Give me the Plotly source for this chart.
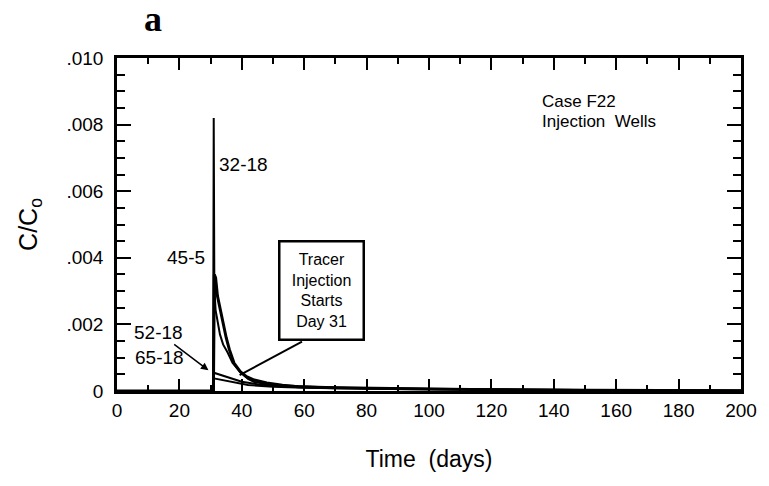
import plotly.graph_objects as go

# ---- data ----
days_32_18 = [0, 30.8, 31.0, 31.2, 31.6, 32.2, 33, 34, 35.5, 37, 39.5, 42, 44, 50, 60, 70, 80, 100, 120, 150, 200]
c_32_18 = [0, 0, 0.0082, 0.0031, 0.00243, 0.0021, 0.0017, 0.0014, 0.00115, 0.00085, 0.00057, 0.00036,
           0.00027, 0.00018, 0.00013, 0.0001, 0.00008, 0.00006, 0.00004, 0.00003, 0.00001]

days_45_5 = [0, 30.9, 31.2, 31.6, 32.2, 33, 34, 35, 36, 37.5, 39.5, 41.5, 44, 48, 53, 58, 70, 80, 100, 120, 150, 200]
c_45_5 = [0, 0, 0.0035, 0.0034, 0.00285, 0.0025, 0.002, 0.0016, 0.00125, 0.00084, 0.00058, 0.00043,
          0.00033, 0.00024, 0.00017, 0.00013, 0.0001, 0.00008, 0.00006, 0.00004, 0.00002, 0.00001]

days_52_18 = [0, 30.9, 31, 35, 40, 45, 50, 58, 70, 80, 100, 130, 160, 200]
c_52_18 = [0, 0, 0.00055, 0.00042, 0.00028, 0.0002, 0.00016, 0.00012, 0.0001, 0.00008, 0.00006, 0.00004, 0.00002, 0.00001]

days_65_18 = [0, 30.9, 31, 35, 42, 50, 60, 80, 100, 130, 160, 200]
c_65_18 = [0, 0, 0.00038, 0.0003, 0.00018, 0.00013, 0.0001, 0.00007, 0.00005, 0.00003, 0.00002, 0.00001]

y_tick_vals = [0, 0.002, 0.004, 0.006, 0.008, 0.010]
y_tick_text = ["0", ".002", ".004", ".006", ".008", ".010"]
x_tick_vals = [0, 20, 40, 60, 80, 100, 120, 140, 160, 180, 200]

FONT = "Liberation Sans, Arial, sans-serif"

fig = go.Figure()
for xs, ys, w in [(days_32_18, c_32_18, 2), (days_45_5, c_45_5, 3),
                  (days_52_18, c_52_18, 2), (days_65_18, c_65_18, 2)]:
    fig.add_trace(go.Scatter(x=xs, y=ys, mode="lines",
                             line=dict(color="black", width=w),
                             showlegend=False, hoverinfo="skip"))

axis_common = dict(showgrid=False, zeroline=False, showline=True, linecolor="black", linewidth=2.5,
                   mirror="ticks", ticks="inside", tickcolor="black", tickwidth=2,
                   tickfont=dict(family=FONT, size=19, color="black"))

fig.update_xaxes(range=[0, 200], tickvals=x_tick_vals, ticklen=12,
                 minor=dict(dtick=10, ticks="inside", ticklen=6, tickcolor="black", tickwidth=1.5),
                 title=dict(text="Time  (days)", font=dict(family=FONT, size=23, color="black"), standoff=32),
                 **axis_common)
fig.update_yaxes(range=[0, 0.010], tickvals=y_tick_vals, ticktext=y_tick_text, ticklen=14,
                 ticklabelstandoff=7,
                 minor=dict(dtick=0.0005, ticks="inside", ticklen=8, tickcolor="black", tickwidth=1.5),
                 title=dict(text="C/C<sub>o</sub>", font=dict(family=FONT, size=25, color="black"), standoff=22),
                 **axis_common)

ann_font = dict(family=FONT, size=19, color="black")
fig.add_annotation(x=40.7, y=0.0068, text="32-18", showarrow=False, font=ann_font)
fig.add_annotation(x=28.8, y=0.0040, text="45-5", showarrow=False, font=ann_font, xanchor="right")
fig.add_annotation(x=29.3, y=0.00062, text="52-18", font=ann_font, showarrow=True,
                   arrowhead=2, arrowsize=1, arrowwidth=1.5, arrowcolor="black", ax=-50, ay=-38)
fig.add_annotation(x=13.6, y=0.00102, text="65-18", showarrow=False, font=ann_font)
fig.add_annotation(x=135.5, y=0.0087, text="Case F22", showarrow=False, xanchor="left",
                   font=dict(family=FONT, size=17, color="black"))
fig.add_annotation(x=135.5, y=0.00808, text="Injection  Wells", showarrow=False, xanchor="left",
                   font=dict(family=FONT, size=17, color="black"))
fig.add_annotation(x=65.6, y=0.00302, text="Tracer<br>Injection<br>Starts<br>Day 31", showarrow=False,
                   font=dict(family=FONT, size=16, color="black"), bordercolor="black", borderwidth=2.5,
                   bgcolor="white", width=80, height=94, align="center")
fig.add_shape(type="line", x0=59.3, y0=0.00148, x1=39.3, y1=0.00048, line=dict(color="black", width=2))

fig.add_annotation(x=0.058, y=1.117, xref="paper", yref="paper", text="<b>a</b>", showarrow=False,
                   xanchor="center", yanchor="middle",
                   font=dict(family="Liberation Serif, Times New Roman, serif", size=36, color="black"))

fig.update_layout(width=769, height=486, margin=dict(l=117, r=18, t=58, b=95),
                  plot_bgcolor="white", paper_bgcolor="white")

fig.write_html("out.html")
